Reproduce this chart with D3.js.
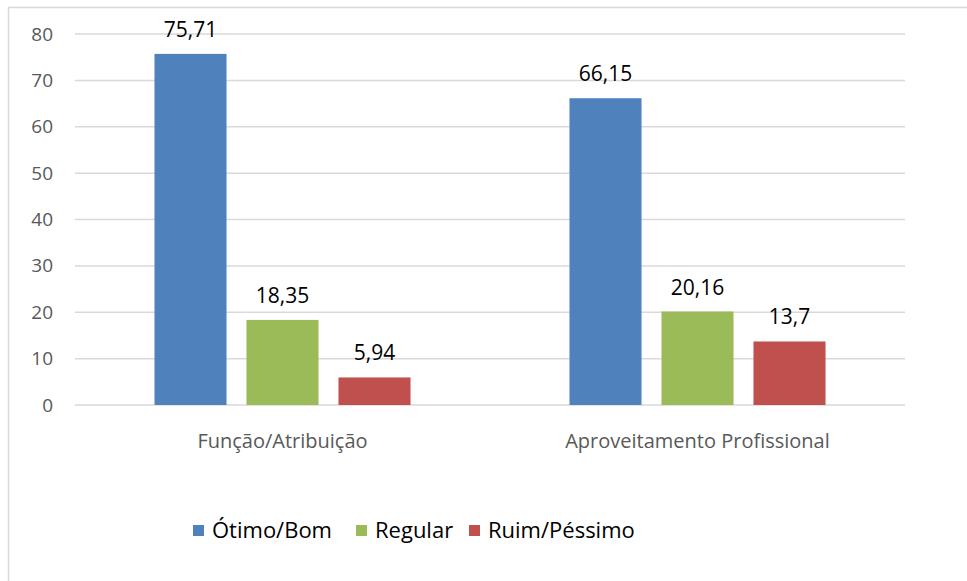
<!DOCTYPE html>
<html>
<head>
<meta charset="utf-8">
<script src="https://cdn.jsdelivr.net/npm/d3@7"></script>
<style>
  body { margin: 0; background: #fff; }
  text { font-family: "Open Sans", sans-serif; }
</style>
</head>
<body>
<div id="chart"></div>
<script>
var width = 967;
var height = 581;

// data
var categories = ['Função/Atribuição', 'Aproveitamento Profissional'];
var series = ['Ótimo/Bom', 'Regular', 'Ruim/Péssimo'];
var otimoBom = [75.71, 66.15];
var regular = [18.35, 20.16];
var ruimPessimo = [5.94, 13.7];
var valueLabels = [['75,71', '66,15'], ['18,35', '20,16'], ['5,94', '13,7']];
var yTicks = [0, 10, 20, 30, 40, 50, 60, 70, 80];

var colors = ['#4f81bd', '#9bbb59', '#c0504d'];
var seriesValues = [otimoBom, regular, ruimPessimo];

var rows = [];
categories.forEach(function(c, i) {
  series.forEach(function(s, j) {
    rows.push({cat: c, series: s, value: seriesValues[j][i], label: valueLabels[j][i], idx: j});
  });
});

var svg = d3.select('#chart')
  .append('svg')
    .attr('width', width)
    .attr('height', height);

// outer border of the chart area
svg.append('rect')
  .attr('x', 8.5).attr('y', 7.5)
  .attr('width', 1000).attr('height', 700)
  .attr('fill', 'none')
  .attr('stroke', '#d9d9d9')
  .attr('stroke-width', 1.5);

var x0 = d3.scaleBand().domain(categories).range([75, 905]);
var x1 = d3.scaleBand().domain(series).range([0, x0.bandwidth()])
  .paddingInner(0.217).paddingOuter(0.864);
var y = d3.scaleLinear().domain([0, 80]).range([405, 34]);

// gridlines
svg.append('g')
  .selectAll('line')
  .data(yTicks)
  .join('line')
    .attr('x1', 75).attr('x2', 905)
    .attr('y1', d => y(d)).attr('y2', d => y(d))
    .attr('stroke', '#d9d9d9')
    .attr('stroke-width', 1.5);

// y axis labels
var yAxis = d3.axisLeft(y).tickValues(yTicks).tickSize(0).tickPadding(0);
var gy = svg.append('g')
  .attr('transform', 'translate(53,0)')
  .call(yAxis);
gy.select('.domain').remove();
gy.selectAll('text')
  .attr('font-family', '"Open Sans", sans-serif')
  .attr('font-size', 19)
  .attr('fill', '#595959');

// bars
svg.append('g')
  .selectAll('rect')
  .data(rows)
  .join('rect')
    .attr('x', d => x0(d.cat) + x1(d.series))
    .attr('y', d => y(d.value))
    .attr('width', x1.bandwidth())
    .attr('height', d => y(0) - y(d.value))
    .attr('fill', d => colors[d.idx]);

// value labels
svg.append('g')
  .selectAll('text')
  .data(rows)
  .join('text')
    .attr('x', d => x0(d.cat) + x1(d.series) + x1.bandwidth() / 2)
    .attr('y', d => y(d.value) - 17)
    .attr('text-anchor', 'middle')
    .attr('font-size', 21)
    .attr('fill', '#000')
    .text(d => d.label);

// category labels
var xAxis = d3.axisBottom(x0).tickSize(0).tickPadding(0);
var gx = svg.append('g')
  .attr('transform', 'translate(0,434)')
  .call(xAxis);
gx.select('.domain').remove();
gx.selectAll('text')
  .attr('font-family', '"Open Sans", sans-serif')
  .attr('font-size', 20)
  .attr('fill', '#595959');

// legend
var legendX = [193, 356, 469];
var legend = svg.append('g')
  .selectAll('g')
  .data(series)
  .join('g')
    .attr('transform', (d, i) => 'translate(' + legendX[i] + ',525)');
legend.append('rect')
  .attr('width', 11).attr('height', 11)
  .attr('fill', (d, i) => colors[i]);
legend.append('text')
  .attr('x', 19).attr('y', 13)
  .attr('font-size', 22)
  .attr('fill', '#000')
  .text(d => d);
</script>
</body>
</html>
